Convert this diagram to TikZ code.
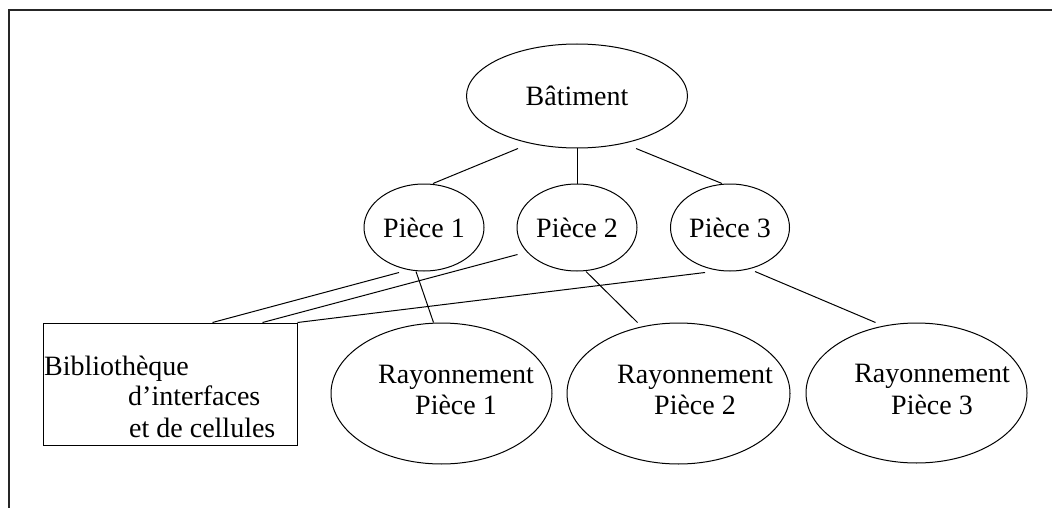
\documentclass[tikz,border=0pt]{standalone}
\usepackage{fontspec}
\setmainfont{Liberation Serif}
\usetikzlibrary{shapes.geometric,calc}
\tikzset{
  ell/.style={draw=black, line width=1pt, ellipse, inner sep=0pt},
  lbl/.style={inner sep=0pt, font=\fontsize{28}{32}\selectfont},
  conn/.style={draw=black, line width=1pt},
  boxstyle/.style={draw=black, line width=1pt, rectangle, inner sep=0pt}
}
\begin{document}
\begin{tikzpicture}[x=1pt,y=-1pt]
\useasboundingbox (0,0) rectangle (1052,508);
\fill[white] (0,0) rectangle (1052,508);
% frame
\draw[line width=2pt, black!85] (9,508) -- (9,10) -- (1052,10);
% nodes
\node[ell, minimum width=221pt, minimum height=104pt, lbl] (bat) at (577,96) {Bâtiment};
\node[ell, minimum width=120pt, minimum height=87pt, lbl] (p1) at (424,227.5) {Pièce 1};
\node[ell, minimum width=120pt, minimum height=87pt, lbl] (p2) at (577,227.5) {Pièce 2};
\node[ell, minimum width=119pt, minimum height=87pt, lbl] (p3) at (730,227.5) {Pièce 3};
\node[ell, minimum width=221pt, minimum height=141pt] (r1) at (441.5,393.5) {};
\node[ell, minimum width=223pt, minimum height=141pt] (r2) at (678.5,393.5) {};
\node[ell, minimum width=221pt, minimum height=140pt] (r3) at (916.5,393) {};
\node[boxstyle, minimum width=254pt, minimum height=122pt] (box) at (170,384) {};
% texts
\node[lbl, anchor=base] (r1a) at (456,383) {Rayonnement};
\node[lbl, anchor=base] (r1b) at (456,414) {Pièce 1};
\node[lbl, anchor=base] (r2a) at (695,383) {Rayonnement};
\node[lbl, anchor=base] (r2b) at (695,414) {Pièce 2};
\node[lbl, anchor=base] (r3a) at (932,382) {Rayonnement};
\node[lbl, anchor=base] (r3b) at (932,414) {Pièce 3};
\node[lbl, anchor=base west] (b1) at (44,375) {Bibliothèque};
\node[lbl, anchor=base west] (b2) at (128,405) {d’interfaces};
\node[lbl, anchor=base west] (b3) at (129,437) {et de cellules};
% connectors
\draw[conn] ($(bat.south)+(-59,0)$) -- ($(p1.north)+(9,0)$);
\draw[conn] (bat.south) -- (p2.north);
\draw[conn] ($(bat.south)+(59,0)$) -- ($(p3.north)+(-8,0)$);
\draw[conn] ($(p1.south)+(-8,0)$) -- ($(r1.north)+(-8,0)$);
\draw[conn] ($(p2.south)+(9,0)$) -- ($(r2.north)+(-41,0)$);
\draw[conn] ($(p3.south)+(25,0)$) -- ($(r3.north)+(-41,0)$);
\draw[conn] ($(p1.south)+(-25,1)$) -- ($(box.north west)+(170,0)$);
\draw[conn] ($(p2.west)+(1,27)$) -- ($(box.north west)+(220,0)$);
\draw[conn] ($(p3.south)+(-25,1)$) -- (box.north east);
\end{tikzpicture}
\end{document}
